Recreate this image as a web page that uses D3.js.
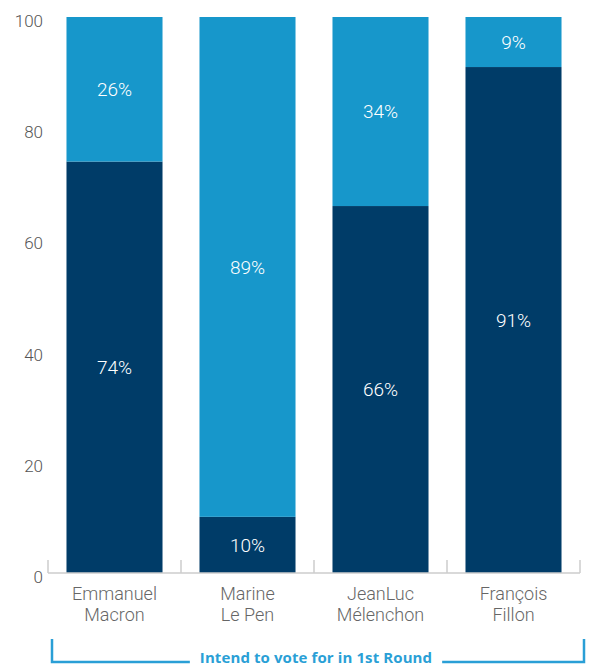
<!DOCTYPE html>
<html>
<head>
<meta charset="utf-8">
<script src="https://cdn.jsdelivr.net/npm/d3@7"></script>
<style>
  html, body { margin: 0; padding: 0; background: #fff; }
  svg { display: block; }
</style>
</head>
<body>
<svg id="chart" width="591" height="666"></svg>
<script>
const categories = [["Emmanuel", "Macron"], ["Marine", "Le Pen"], ["JeanLuc", "Mélenchon"], ["François", "Fillon"]];
const seriesKeys = ["dark", "light"];
const darkValues = [74, 10, 66, 91];
const lightValues = [26, 89, 34, 9];
const yTicks = [0, 20, 40, 60, 80, 100];
const bracketLabel = "Intend to vote for in 1st Round";

const colors = { dark: "#003c68", light: "#1797cb" };
const FONT = "Roboto, 'Open Sans', sans-serif";

const svg = d3.select("#chart");
const margin = { top: 17, left: 48, right: 11, bottom: 93 };
const W = 591, H = 666;

const rows = categories.map((c, i) => ({ name: c.join(" "), dark: darkValues[i], light: lightValues[i] }));

const x = d3.scaleBand()
  .domain(rows.map(d => d.name))
  .range([margin.left, W - margin.right])
  .paddingInner(0.278)
  .paddingOuter(0.139);

const y = d3.scaleLinear().domain([0, 1]).range([H - margin.bottom, margin.top]);
const yAxisScale = d3.scaleLinear().domain([0, 100]).range(y.range());

const stack = d3.stack().keys(seriesKeys).offset(d3.stackOffsetExpand);
const stacked = stack(rows);

// bars
const g = svg.append("g");
stacked.forEach(layer => {
  const key = layer.key;
  g.selectAll(null).data(layer).enter().append("rect")
    .attr("x", d => x(d.data.name))
    .attr("width", x.bandwidth())
    .attr("y", d => y(d[1]))
    .attr("height", d => y(d[0]) - y(d[1]))
    .attr("fill", colors[key]);
  g.selectAll(null).data(layer).enter().append("text")
    .attr("x", d => x(d.data.name) + x.bandwidth() / 2)
    .attr("y", d => (y(d[0]) + y(d[1])) / 2)
    .attr("dy", "0.35em")
    .attr("text-anchor", "middle")
    .attr("fill", "#fff")
    .style("font-family", FONT)
    .style("font-weight", 300)
    .style("font-size", "19px")
    .text(d => d.data[key] + "%");
});

// x axis line with ticks at band boundaries
const baseY = y(0);
const axisG = svg.append("g");
const x0 = margin.left, x1 = W - margin.right;
axisG.append("line")
  .attr("x1", x0).attr("x2", x1).attr("y1", baseY).attr("y2", baseY)
  .attr("stroke", "#cccccc").attr("stroke-width", 1.5);
const boundaries = d3.range(rows.length + 1).map(i => x0 + i * (x1 - x0) / rows.length);
axisG.selectAll(null).data(boundaries).enter().append("line")
  .attr("x1", d => d).attr("x2", d => d)
  .attr("y1", baseY).attr("y2", baseY - 13)
  .attr("stroke", "#cccccc").attr("stroke-width", 1.5);

// y tick labels
svg.append("g").selectAll(null).data(yTicks).enter().append("text")
  .attr("x", 43)
  .attr("y", d => yAxisScale(d) + 4)
  .attr("dy", "0.35em")
  .attr("text-anchor", "end")
  .attr("fill", "#555")
  .style("font-family", FONT)
  .style("font-weight", 300)
  .style("font-size", "17px")
  .text(d => d);

// category labels
const catG = svg.append("g");
rows.forEach((r, i) => {
  const cx = x(r.name) + x.bandwidth() / 2;
  const t = catG.append("text")
    .attr("x", cx)
    .attr("y", 600)
    .attr("text-anchor", "middle")
    .attr("fill", "#666")
    .style("font-family", FONT)
    .style("font-weight", 300)
    .style("font-size", "18px");
  categories[i].forEach((line, j) => {
    t.append("tspan").attr("x", cx).attr("dy", j === 0 ? 0 : 21).text(line);
  });
});

// bracket
const bColor = "#2a9fd6";
const bY = 662, bTop = 639, bL = 52, bR = 584;
const label = svg.append("text")
  .attr("x", (bL + bR) / 2 - 2)
  .attr("y", 663)
  .attr("text-anchor", "middle")
  .attr("fill", bColor)
  .style("font-family", "'Open Sans', Roboto, sans-serif")
  .style("font-weight", 700)
  .style("font-size", "15px")
  .style("letter-spacing", "0.1px")
  .text(bracketLabel);
const bb = label.node().getBBox();
const gap = 10;
svg.append("path")
  .attr("d", `M${bL},${bTop}V${bY}H${bb.x - gap}`)
  .attr("fill", "none").attr("stroke", bColor).attr("stroke-width", 2.5);
svg.append("path")
  .attr("d", `M${bb.x + bb.width + gap},${bY}H${bR}V${bTop}`)
  .attr("fill", "none").attr("stroke", bColor).attr("stroke-width", 2.5);
</script>
</body>
</html>
